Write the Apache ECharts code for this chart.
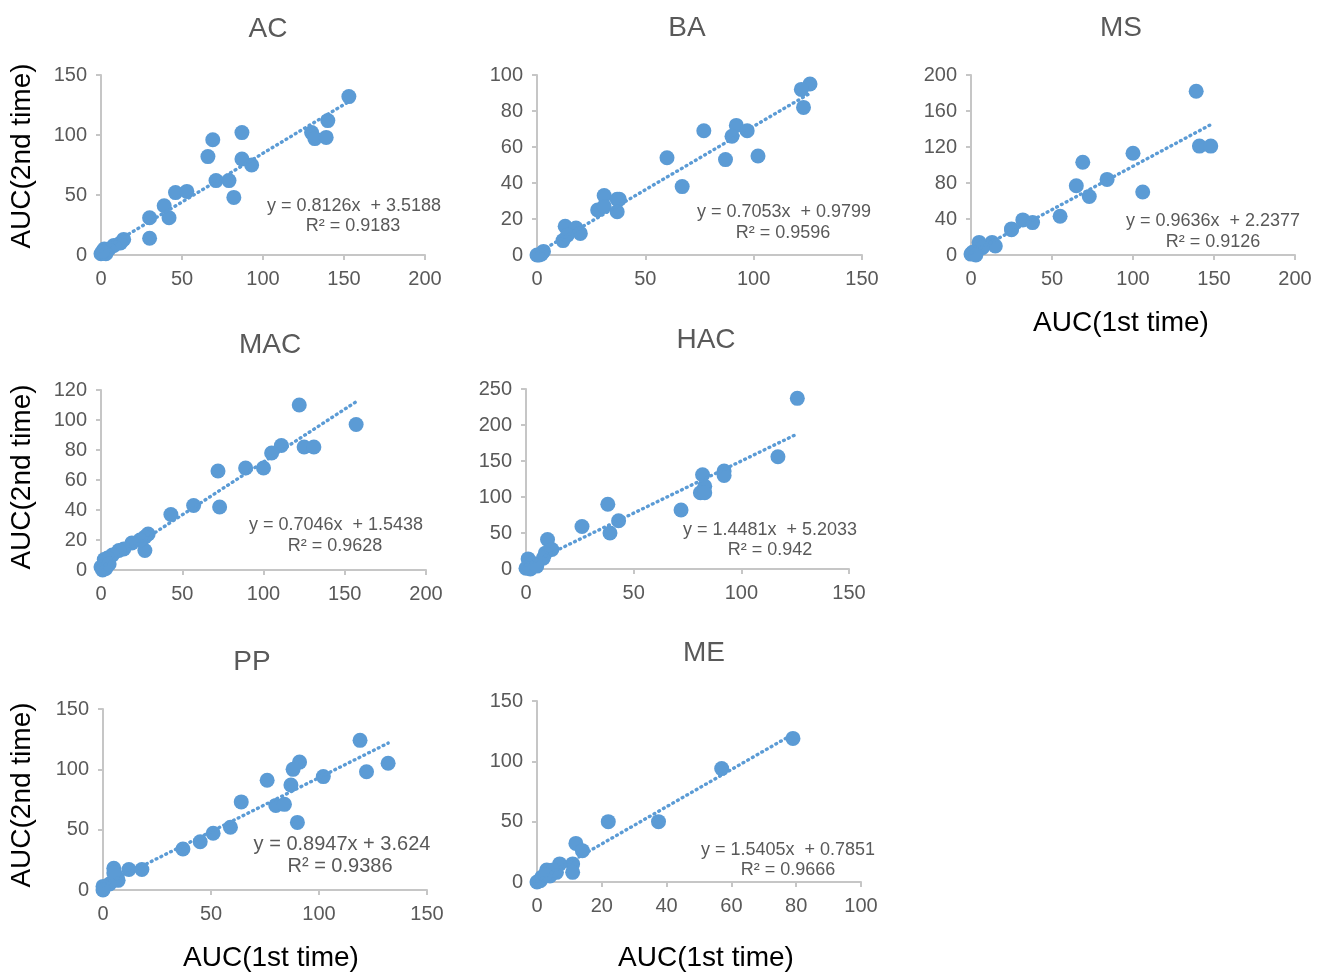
<!DOCTYPE html>
<html>
<head>
<meta charset="utf-8">
<script src="https://cdn.jsdelivr.net/npm/echarts@6/dist/echarts.min.js"></script>
<style>
  html, body { margin: 0; padding: 0; background: #ffffff; }
  #chart { width: 1326px; height: 976px; }
</style>
</head>
<body>
<div id="chart"></div>
<script>
// Panel names
const panelNames = ['AC', 'BA', 'MS', 'MAC', 'HAC', 'PP', 'ME'];

// AUC measured the first time (x) and the second time (y), per panel
const acFirst   = [153, 140, 130, 132, 139, 87, 69, 66, 87, 93, 71, 79, 82, 46, 53, 39, 42, 30, 30, 14, 12, 8, 5, 2, 0, 3, 1];
const acSecond  = [132, 112, 102, 97, 98, 102, 96, 82, 80, 75, 62, 62, 48, 52, 53, 41, 31, 31, 14, 13, 10, 8, 5, 5, 1, 1, 3];

const baFirst   = [126, 122, 123, 92, 97, 90, 77, 60, 87, 102, 67, 31, 38, 37, 37, 28, 31, 13, 18, 20, 12, 14, 3, 1, 2, 0];
const baSecond  = [95, 92, 82, 72, 69, 66, 69, 54, 53, 55, 38, 33, 31, 31, 24, 25, 27, 16, 15, 12, 8, 11, 2, 0, 0.5, 0];

const msFirst   = [139, 141, 148, 100, 69, 65, 84, 73, 106, 55, 32, 38, 25, 25, 13, 15, 5, 7, 1, 0, 3];
const msSecond  = [182, 121, 121, 113, 103, 77, 84, 65, 70, 43, 39, 36, 29, 28, 14, 10, 14, 8, 3, 1, 0];

const macFirst  = [157, 122, 111, 125, 131, 105, 100, 89, 72, 73, 57, 43, 29, 27, 27, 24, 19, 14, 11, 7, 4, 2, 0, 3, 1, 5];
const macSecond = [97, 110, 83, 82, 82, 78, 68, 68, 66, 42, 43, 37, 24, 22, 13, 20, 18, 14, 13, 10, 8, 7, 2, 1, 0, 4];

const hacFirst  = [126, 117, 92, 92, 82, 83, 81, 83, 72, 38, 43, 39, 26, 10, 12, 9, 8, 1, 3, 0, 2, 5];
const hacSecond = [237, 156, 136, 130, 131, 115, 106, 106, 82, 90, 67, 50, 59, 41, 27, 22, 15, 14, 8, 1, 0, 4];

const ppFirst   = [119, 132, 122, 91, 88, 102, 76, 87, 64, 80, 84, 90, 59, 51, 45, 37, 18, 12, 5, 6, 7, 3, 0, 0, 5];
const ppSecond  = [124, 105, 98, 106, 100, 94, 91, 87, 73, 70, 71, 56, 52, 47, 40, 34, 17, 17, 18, 12, 8, 5, 3, 0, 14];

const meFirst   = [79, 57, 37.5, 22, 12, 14, 11, 11, 7, 6, 3, 4, 1.5, 0, 1, 5, 2.5];
const meSecond  = [119, 94, 50, 50, 32, 26, 15, 8, 15, 8, 10, 5, 4, 0, 1, 10, 6];

// Linear trend lines: slope, intercept, R²
const slopes     = [0.8126, 0.7053, 0.9636, 0.7046, 1.4481, 0.8947, 1.5405];
const intercepts = [3.5188, 0.9799, 2.2377, 1.5438, 5.2033, 3.624, 0.7851];
const rSquared   = ['0.9183', '0.9596', '0.9126', '0.9628', '0.942', '0.9386', '0.9666'];

// Axis ranges and tick steps
const xMax  = [200, 150, 200, 200, 150, 150, 100];
const xStep = [50, 50, 50, 50, 50, 50, 20];
const yMax  = [150, 100, 200, 120, 250, 150, 150];
const yStep = [50, 20, 40, 20, 50, 50, 50];

const xAxisTitle = 'AUC(1st time)';
const yAxisTitle = 'AUC(2nd time)';

const firstValues  = [acFirst, baFirst, msFirst, macFirst, hacFirst, ppFirst, meFirst];
const secondValues = [acSecond, baSecond, msSecond, macSecond, hacSecond, ppSecond, meSecond];

// ---- layout ----
const grids = [
  { left: 101, top: 75,  width: 324, height: 180 },
  { left: 537, top: 75,  width: 325, height: 180 },
  { left: 971, top: 75,  width: 324, height: 180 },
  { left: 101, top: 390, width: 325, height: 180 },
  { left: 526, top: 389, width: 323, height: 180 },
  { left: 103, top: 709, width: 324, height: 181 },
  { left: 537, top: 701, width: 324, height: 181 }
];
const titlePos = [[268, 29], [687, 28], [1121, 28], [270, 345], [706, 340], [252, 662], [704, 653]];
const eqPos    = [[354, 206], [784, 212], [1213, 221], [336, 525], [770, 530], [342, 844], [788, 850]];
const r2Pos    = [[353, 226], [783, 233], [1213, 242], [335, 546], [770, 550], [340, 866], [788, 870]];
const eqFont   = [18, 18, 18, 18, 18, 20, 18];
const eqGap    = ['  ', '  ', '  ', '  ', '  ', ' ', '  '];

const BLUE = '#5B9BD5';
const AXIS = '#C6C6C6';
const TEXT = '#595959';
const FONT = '"Liberation Sans", Arial, sans-serif';

const option = {
  animation: false,
  backgroundColor: '#ffffff',
  grid: [], xAxis: [], yAxis: [], series: [], graphic: []
};

panelNames.forEach((name, i) => {
  option.grid.push(Object.assign({ containLabel: false }, grids[i]));
  const axisCommon = {
    type: 'value',
    gridIndex: i,
    min: 0,
    splitLine: { show: false },
    axisLine: { show: true, onZero: false, lineStyle: { color: AXIS, width: 2 } },
    axisTick: { show: true, inside: false, length: 5, lineStyle: { color: AXIS, width: 2 } },
    axisLabel: { color: TEXT, fontSize: 20, fontFamily: FONT }
  };
  option.xAxis.push(Object.assign({}, axisCommon, {
    max: xMax[i], interval: xStep[i],
    axisLabel: Object.assign({}, axisCommon.axisLabel, { margin: 14 })
  }));
  option.yAxis.push(Object.assign({}, axisCommon, {
    max: yMax[i], interval: yStep[i],
    axisLabel: Object.assign({}, axisCommon.axisLabel, { margin: 14 })
  }));

  const pts = firstValues[i].map((x, k) => [x, secondValues[i][k]]);
  option.series.push({
    type: 'scatter',
    xAxisIndex: i, yAxisIndex: i,
    data: pts,
    symbolSize: 15,
    itemStyle: { color: BLUE, opacity: 1 },
    z: 2
  });

  // trend line across the range of first-time values
  const xs = firstValues[i];
  const x0 = Math.min.apply(null, xs), x1 = Math.max.apply(null, xs);
  option.series.push({
    type: 'line',
    xAxisIndex: i, yAxisIndex: i,
    data: [[x0, slopes[i] * x0 + intercepts[i]], [x1, slopes[i] * x1 + intercepts[i]]],
    symbol: 'none',
    lineStyle: { color: BLUE, width: 3.4, type: [0.8, 4.6], cap: 'round' },
    silent: true,
    z: 3
  });

  // panel title
  option.graphic.push({
    type: 'text', x: titlePos[i][0], y: titlePos[i][1],
    style: { text: name, font: '28px ' + FONT, fill: TEXT,
             align: 'center', verticalAlign: 'middle', textAlign: 'center', textVerticalAlign: 'middle' }
  });
  // equation and R²
  option.graphic.push({
    type: 'text', x: eqPos[i][0], y: eqPos[i][1],
    style: { text: 'y = ' + slopes[i] + 'x' + eqGap[i] + '+ ' + intercepts[i],
             font: eqFont[i] + 'px ' + FONT, fill: TEXT,
             align: 'center', verticalAlign: 'middle', textAlign: 'center', textVerticalAlign: 'middle' }
  });
  option.graphic.push({
    type: 'text', x: r2Pos[i][0], y: r2Pos[i][1],
    style: { text: 'R² = ' + rSquared[i],
             font: eqFont[i] + 'px ' + FONT, fill: TEXT,
             align: 'center', verticalAlign: 'middle', textAlign: 'center', textVerticalAlign: 'middle' }
  });
});

// axis titles
[[22, 156], [22, 477], [22, 795]].forEach(p => {
  option.graphic.push({
    type: 'text', x: p[0], y: p[1], rotation: Math.PI / 2,
    style: { text: yAxisTitle, font: '28px ' + FONT, fill: '#000000',
             align: 'center', verticalAlign: 'middle', textAlign: 'center', textVerticalAlign: 'middle' }
  });
});
[[1121, 323], [271, 958], [706, 958]].forEach(p => {
  option.graphic.push({
    type: 'text', x: p[0], y: p[1],
    style: { text: xAxisTitle, font: '28px ' + FONT, fill: '#000000',
             align: 'center', verticalAlign: 'middle', textAlign: 'center', textVerticalAlign: 'middle' }
  });
});

const chart = echarts.init(document.getElementById('chart'), null, { renderer: 'canvas' });
chart.setOption(option);
</script>
</body>
</html>
